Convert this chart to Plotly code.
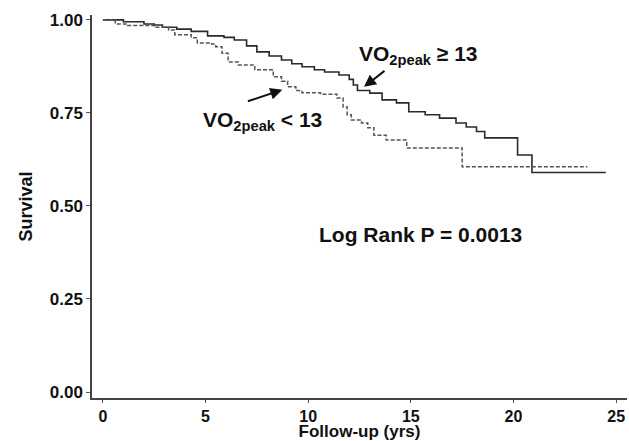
import plotly.graph_objects as go

# Kaplan-Meier step data (time in years, survival)
t_high = [0, 1.0, 2.0, 2.5, 2.9, 3.6, 4.3, 5.1, 5.9, 6.4, 7.0, 7.5, 8.1, 8.7, 9.2, 9.7,
          10.3, 10.8, 11.5, 12.0, 12.2, 12.4, 13.0, 13.6, 14.3, 14.9, 15.7, 16.4, 17.2,
          17.7, 18.2, 18.6, 20.2, 20.9, 24.5]
s_high = [1.0, 0.995, 0.989, 0.986, 0.98, 0.975, 0.969, 0.957, 0.953, 0.946, 0.93, 0.914,
          0.903, 0.892, 0.882, 0.874, 0.866, 0.86, 0.852, 0.84, 0.825, 0.81, 0.803, 0.785,
          0.777, 0.753, 0.745, 0.736, 0.723, 0.712, 0.70, 0.683, 0.637, 0.59, 0.59]

t_low = [0, 0.6, 1.2, 2.5, 3.2, 3.5, 4.3, 4.6, 5.3, 5.5, 5.8, 6.1, 6.6, 7.4, 8.3, 8.7,
         9.0, 9.4, 9.7, 10.6, 11.4, 11.7, 11.9, 12.1, 12.6, 12.9, 13.2, 13.8, 14.8, 17.5, 23.6]
s_low = [1.0, 0.989, 0.985, 0.98, 0.973, 0.96, 0.952, 0.938, 0.935, 0.928, 0.91, 0.887,
         0.879, 0.866, 0.847, 0.835, 0.82, 0.81, 0.804, 0.80, 0.79, 0.766, 0.745, 0.731,
         0.723, 0.71, 0.69, 0.677, 0.656, 0.605, 0.605]

x_ticks = [0, 5, 10, 15, 20, 25]
y_ticks = [0.00, 0.25, 0.50, 0.75, 1.00]
y_tick_labels = ["0.00", "0.25", "0.50", "0.75", "1.00"]

FONT = "Liberation Sans, Arial, Helvetica, sans-serif"

fig = go.Figure()
fig.add_trace(go.Scatter(x=t_high, y=s_high, mode="lines", line_shape="hv",
                         line=dict(color="#2a2a2a", width=1.6), name="VO2peak ≥ 13"))
fig.add_trace(go.Scatter(x=t_low, y=s_low, mode="lines", line_shape="hv",
                         line=dict(color="#555555", width=1.5, dash="4px,2px"),
                         name="VO2peak < 13"))

fig.add_annotation(x=12.72, y=0.82, ax=13.79, ay=0.866, axref="x", ayref="y",
                   xref="x", yref="y", text="", showarrow=True, arrowhead=2,
                   arrowsize=1.2, arrowwidth=2, arrowcolor="#111", standoff=0)
fig.add_annotation(x=8.74, y=0.812, ax=6.99, ay=0.78, axref="x", ayref="y",
                   xref="x", yref="y", text="", showarrow=True, arrowhead=2,
                   arrowsize=1.2, arrowwidth=2, arrowcolor="#111", standoff=0)

fig.add_annotation(x=12.4, y=0.905, xref="x", yref="y", xanchor="left", yanchor="middle",
                   text="VO<sub>2peak</sub> ≥ 13", showarrow=False,
                   font=dict(family=FONT, size=21, color="#111", weight="bold"))
fig.add_annotation(x=4.8, y=0.727, xref="x", yref="y", xanchor="left", yanchor="middle",
                   text="VO<sub>2peak</sub> < 13", showarrow=False,
                   font=dict(family=FONT, size=21, color="#111", weight="bold"))
fig.add_annotation(x=15.46, y=0.423, xref="x", yref="y", xanchor="center", yanchor="middle",
                   text="Log Rank P = 0.0013", showarrow=False,
                   font=dict(family=FONT, size=21, color="#111", weight="bold"))

fig.update_layout(
    width=629, height=441,
    margin=dict(l=92, r=2, t=15, b=43),
    paper_bgcolor="white", plot_bgcolor="white",
    showlegend=False,
    font=dict(family=FONT, size=17, color="#111", weight="bold"),
)
fig.update_xaxes(range=[-0.53, 25.53], tickvals=x_ticks, ticks="outside", ticklen=3,
                 tickcolor="#555", showline=True, linecolor="#444", linewidth=1.5,
                 showgrid=False, zeroline=False,
                 title=dict(text="Follow-up (yrs)", standoff=2,
                            font=dict(family=FONT, size=17, weight="bold")),
                 tickfont=dict(family=FONT, size=16, weight="bold"))
fig.update_yaxes(range=[-0.016, 1.013], tickvals=y_ticks, ticktext=y_tick_labels,
                 ticks="outside", ticklen=4, tickcolor="#555",
                 showline=True, linecolor="#444", linewidth=1.5,
                 showgrid=False, zeroline=False,
                 title=dict(text="Survival", standoff=12,
                            font=dict(family=FONT, size=18, weight="bold")),
                 tickfont=dict(family=FONT, size=17, weight="bold"))

fig.write_html("out.html", config={"displayModeBar": False},
               post_script="document.body.style.margin='0';")
